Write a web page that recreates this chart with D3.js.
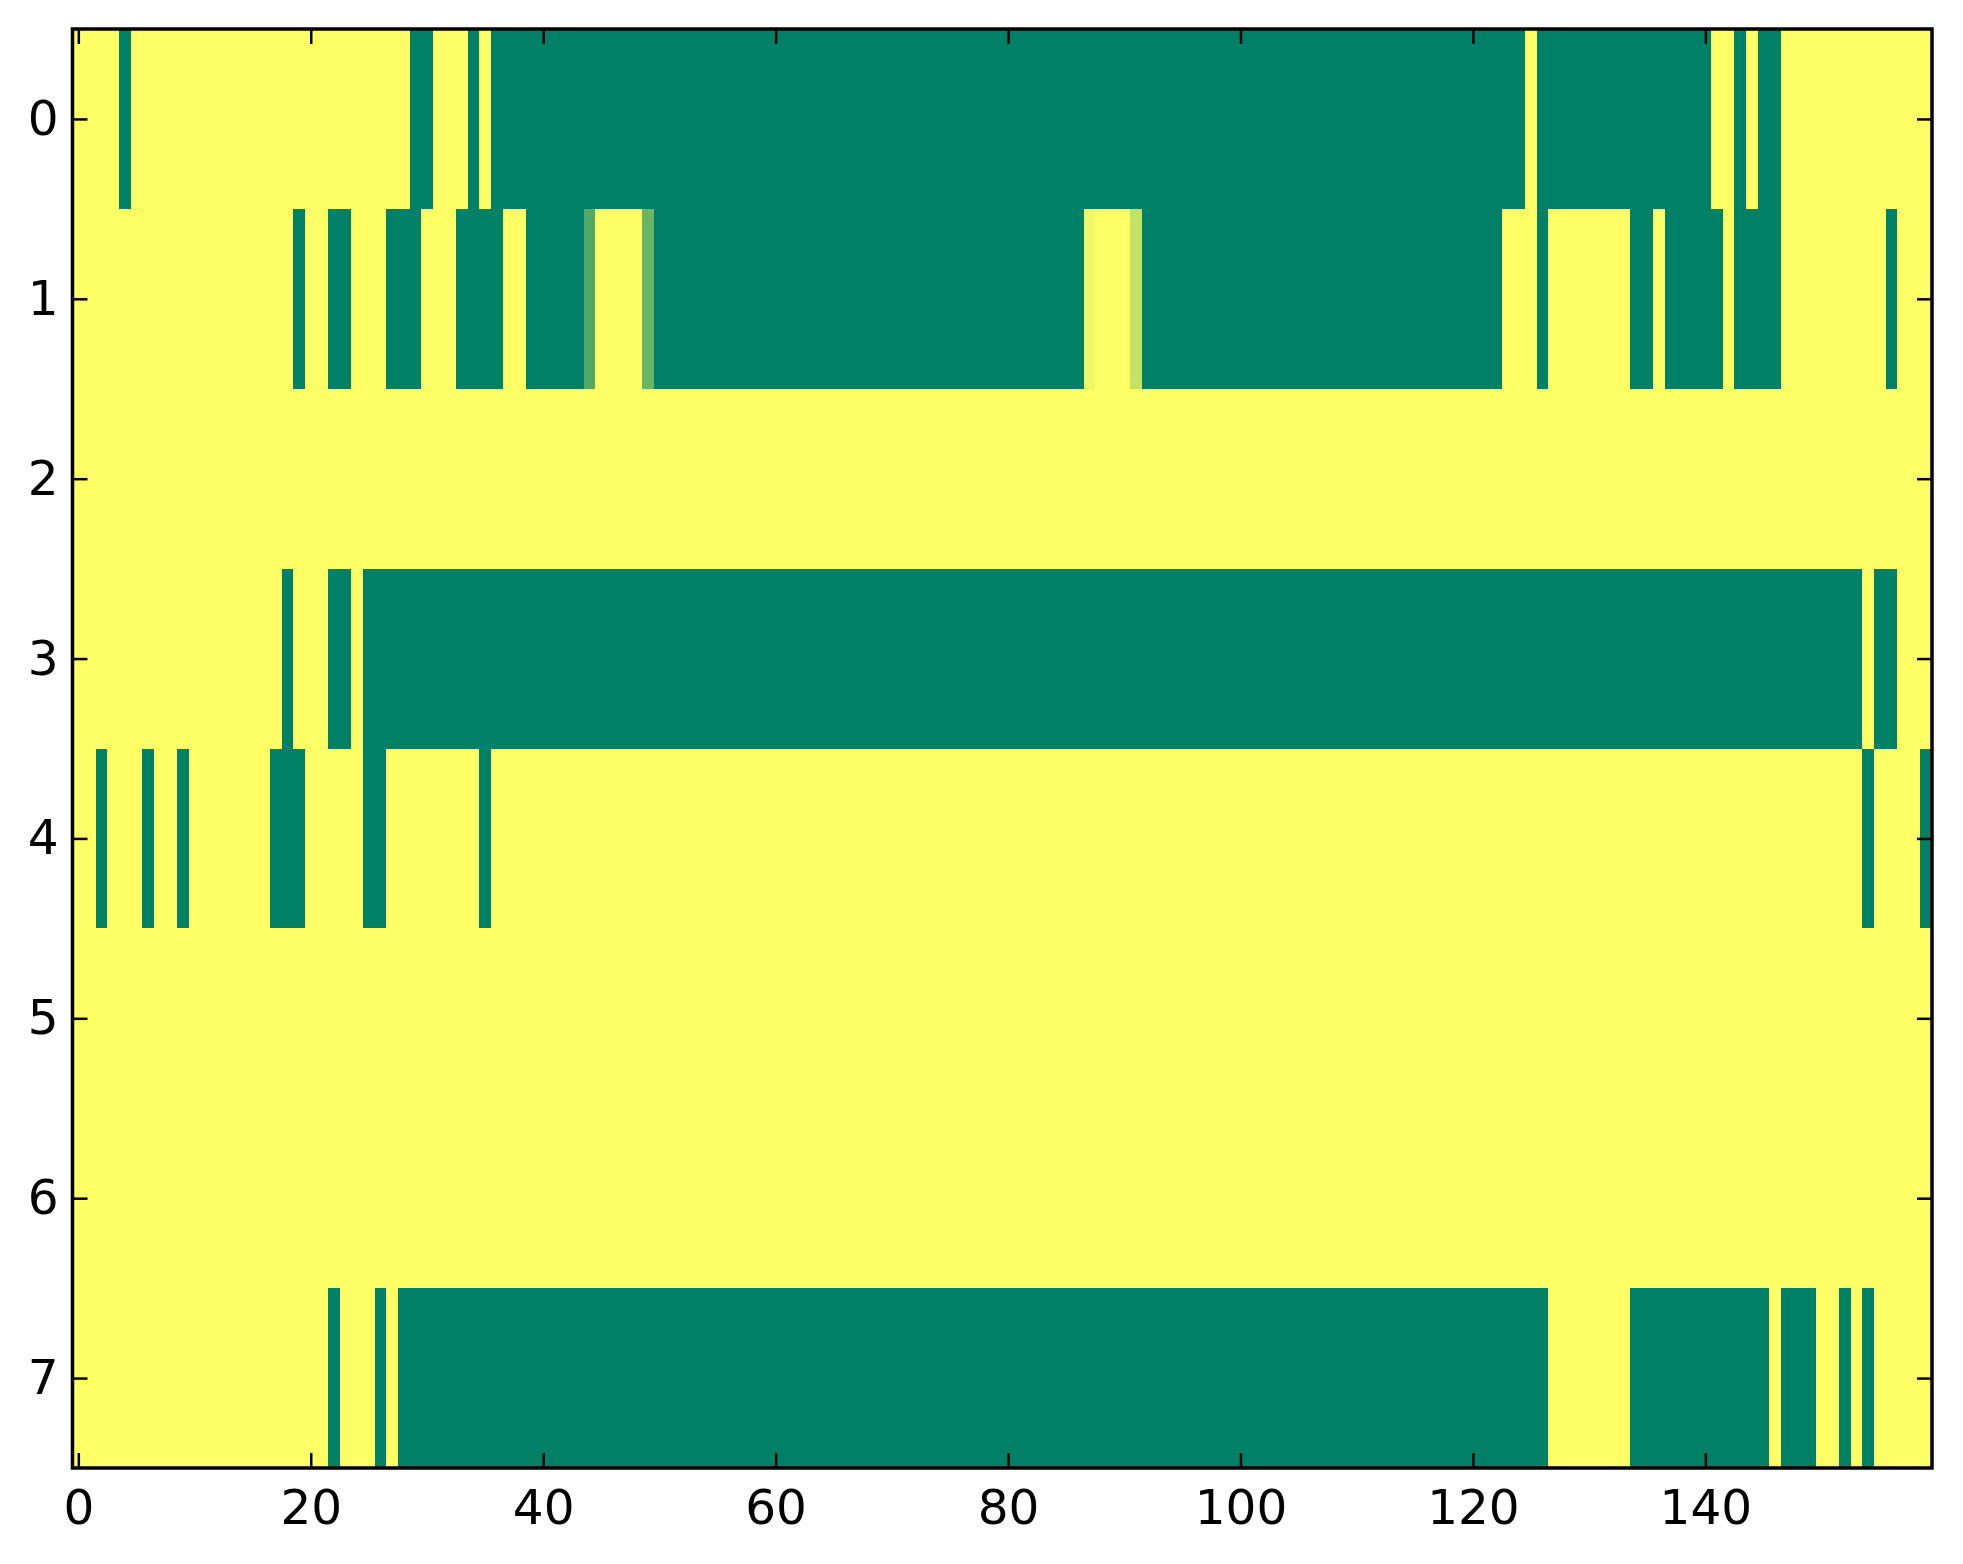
<!DOCTYPE html>
<html>
<head>
<meta charset="utf-8">
<script src="https://cdn.jsdelivr.net/npm/d3@7"></script>
<style>
  body { margin: 0; background: #fff; }
  svg text { font-family: "DejaVu Sans", sans-serif; }
</style>
</head>
<body>
<script>
// imshow-like grid, 8 rows x 160 columns, values 0..1 (summer colormap)
const rowLabels = [0, 1, 2, 3, 4, 5, 6, 7];
const xTicks = [0, 20, 40, 60, 80, 100, 120, 140];

const row0 = [
  1,1,1,1,0,1,1,1,1,1, 1,1,1,1,1,1,1,1,1,1,
  1,1,1,1,1,1,1,1,1,0, 0,1,1,1,0,1,0,0,0,0,
  0,0,0,0,0,0,0,0,0,0, 0,0,0,0,0,0,0,0,0,0,
  0,0,0,0,0,0,0,0,0,0, 0,0,0,0,0,0,0,0,0,0,
  0,0,0,0,0,0,0,0,0,0, 0,0,0,0,0,0,0,0,0,0,
  0,0,0,0,0,0,0,0,0,0, 0,0,0,0,0,0,0,0,0,0,
  0,0,0,0,0,1,0,0,0,0, 0,0,0,0,0,0,0,0,0,0,
  0,1,1,0,1,0,0,1,1,1, 1,1,1,1,1,1,1,1,1,1
];
const row1 = [
  1,1,1,1,1,1,1,1,1,1, 1,1,1,1,1,1,1,1,1,0,
  1,1,0,0,1,1,1,0,0,0, 1,1,1,0,0,0,0,1,1,0,
  0,0,0,0,0.32,1,1,1,1,0.42, 0,0,0,0,0,0,0,0,0,0,
  0,0,0,0,0,0,0,0,0,0, 0,0,0,0,0,0,0,0,0,0,
  0,0,0,0,0,0,0,0.94,1,1, 1,0.77,0,0,0,0,0,0,0,0,
  0,0,0,0,0,0,0,0,0,0, 0,0,0,0,0,0,0,0,0,0,
  0,0,0,1,1,1,0,1,1,1, 1,1,1,1,0,0,1,0,0,0,
  0,0,1,0,0,0,0,1,1,1, 1,1,1,1,1,1,0,1,1,1
];
const row2 = [
  1,1,1,1,1,1,1,1,1,1, 1,1,1,1,1,1,1,1,1,1,
  1,1,1,1,1,1,1,1,1,1, 1,1,1,1,1,1,1,1,1,1,
  1,1,1,1,1,1,1,1,1,1, 1,1,1,1,1,1,1,1,1,1,
  1,1,1,1,1,1,1,1,1,1, 1,1,1,1,1,1,1,1,1,1,
  1,1,1,1,1,1,1,1,1,1, 1,1,1,1,1,1,1,1,1,1,
  1,1,1,1,1,1,1,1,1,1, 1,1,1,1,1,1,1,1,1,1,
  1,1,1,1,1,1,1,1,1,1, 1,1,1,1,1,1,1,1,1,1,
  1,1,1,1,1,1,1,1,1,1, 1,1,1,1,1,1,1,1,1,1
];
const row3 = [
  1,1,1,1,1,1,1,1,1,1, 1,1,1,1,1,1,1,1,0,1,
  1,1,0,0,1,0,0,0,0,0, 0,0,0,0,0,0,0,0,0,0,
  0,0,0,0,0,0,0,0,0,0, 0,0,0,0,0,0,0,0,0,0,
  0,0,0,0,0,0,0,0,0,0, 0,0,0,0,0,0,0,0,0,0,
  0,0,0,0,0,0,0,0,0,0, 0,0,0,0,0,0,0,0,0,0,
  0,0,0,0,0,0,0,0,0,0, 0,0,0,0,0,0,0,0,0,0,
  0,0,0,0,0,0,0,0,0,0, 0,0,0,0,0,0,0,0,0,0,
  0,0,0,0,0,0,0,0,0,0, 0,0,0,0,1,0,0,1,1,1
];
const row4 = [
  1,1,0,1,1,1,0,1,1,0, 1,1,1,1,1,1,1,0,0,0,
  1,1,1,1,1,0,0,1,1,1, 1,1,1,1,1,0,1,1,1,1,
  1,1,1,1,1,1,1,1,1,1, 1,1,1,1,1,1,1,1,1,1,
  1,1,1,1,1,1,1,1,1,1, 1,1,1,1,1,1,1,1,1,1,
  1,1,1,1,1,1,1,1,1,1, 1,1,1,1,1,1,1,1,1,1,
  1,1,1,1,1,1,1,1,1,1, 1,1,1,1,1,1,1,1,1,1,
  1,1,1,1,1,1,1,1,1,1, 1,1,1,1,1,1,1,1,1,1,
  1,1,1,1,1,1,1,1,1,1, 1,1,1,1,0,1,1,1,1,0
];
const row5 = row2.slice();
const row6 = row2.slice();
const row7 = [
  1,1,1,1,1,1,1,1,1,1, 1,1,1,1,1,1,1,1,1,1,
  1,1,0,1,1,1,0,1,0,0, 0,0,0,0,0,0,0,0,0,0,
  0,0,0,0,0,0,0,0,0,0, 0,0,0,0,0,0,0,0,0,0,
  0,0,0,0,0,0,0,0,0,0, 0,0,0,0,0,0,0,0,0,0,
  0,0,0,0,0,0,0,0,0,0, 0,0,0,0,0,0,0,0,0,0,
  0,0,0,0,0,0,0,0,0,0, 0,0,0,0,0,0,0,0,0,0,
  0,0,0,0,0,0,0,1,1,1, 1,1,1,1,0,0,0,0,0,0,
  0,0,0,0,0,0,1,0,0,0, 1,1,0,1,0,1,1,1,1,1
];

const rows = [row0, row1, row2, row3, row4, row5, row6, row7];

const W = 1963, H = 1564;
const margin = {left: 72.5, right: 31, top: 29, bottom: 96};
const nCols = row0.length;

const svg = d3.select("body").append("svg")
    .attr("width", W)
    .attr("height", H);

const x = d3.scaleLinear()
    .domain([-0.5, nCols - 0.5])
    .range([margin.left, W - margin.right]);
const y = d3.scaleLinear()
    .domain([-0.5, rows.length - 0.5])
    .range([margin.top, H - margin.bottom]);

// matplotlib "summer": (v, 0.5 + 0.5v, 0.4)
const color = d3.scaleLinear().domain([0, 1]).range(["#008066", "#ffff66"]);

const cells = [];
rows.forEach((r, ri) => r.forEach((v, ci) => cells.push({r: ri, c: ci, v: v})));

svg.append("g")
    .attr("shape-rendering", "crispEdges")
  .selectAll("rect")
  .data(cells)
  .join("rect")
    .attr("x", d => x(d.c - 0.5))
    .attr("y", d => y(d.r - 0.5))
    .attr("width", d => x(d.c + 0.5) - x(d.c - 0.5) + 0.5)
    .attr("height", d => y(d.r + 0.5) - y(d.r - 0.5) + 0.5)
    .attr("fill", d => color(d.v));

const tickLen = 15;
const fontSize = 48.5;

function styleAxis(g) {
  g.select(".domain").remove();
  g.selectAll(".tick line").attr("stroke", "#000").attr("stroke-width", 2.5);
  g.selectAll(".tick text")
    .attr("fill", "#000")
    .style("font-size", fontSize + "px")
    .style("font-family", "DejaVu Sans, sans-serif");
}

// bottom
svg.append("g")
    .attr("transform", "translate(0," + y.range()[1] + ")")
    .call(d3.axisBottom(x).tickValues(xTicks).tickSizeInner(-tickLen).tickSizeOuter(0).tickPadding(22))
    .call(styleAxis);
// top
svg.append("g")
    .attr("transform", "translate(0," + y.range()[0] + ")")
    .call(d3.axisTop(x).tickValues(xTicks).tickSizeInner(-tickLen).tickSizeOuter(0).tickFormat(""))
    .call(styleAxis);
// left
svg.append("g")
    .attr("transform", "translate(" + x.range()[0] + ",0)")
    .call(d3.axisLeft(y).tickValues(rowLabels).tickSizeInner(-tickLen).tickSizeOuter(0).tickPadding(14))
    .call(styleAxis);
// right
svg.append("g")
    .attr("transform", "translate(" + x.range()[1] + ",0)")
    .call(d3.axisRight(y).tickValues(rowLabels).tickSizeInner(-tickLen).tickSizeOuter(0).tickFormat(""))
    .call(styleAxis);

// frame
svg.append("rect")
    .attr("x", x.range()[0])
    .attr("y", y.range()[0])
    .attr("width", x.range()[1] - x.range()[0])
    .attr("height", y.range()[1] - y.range()[0])
    .attr("fill", "none")
    .attr("stroke", "#000")
    .attr("stroke-width", 3.5);
</script>
</body>
</html>
